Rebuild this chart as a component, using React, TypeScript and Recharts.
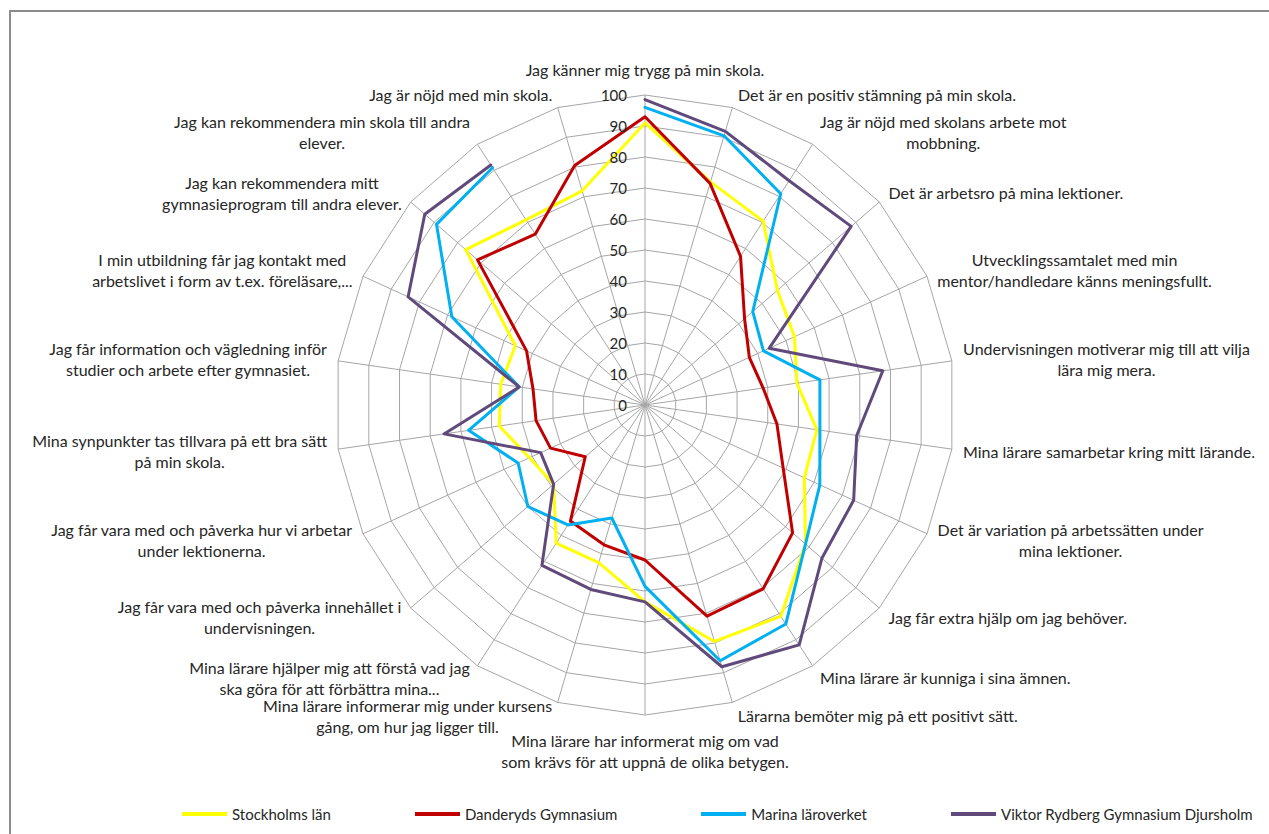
import React from "react";
import {
  RadarChart,
  Radar,
  PolarGrid,
  PolarAngleAxis,
  PolarRadiusAxis,
  Legend,
} from "recharts";

// ---- data ----
const CATEGORIES = [
  "Jag känner mig trygg på min skola.",
  "Det är en positiv stämning på min skola.",
  "Jag är nöjd med skolans arbete mot\nmobbning.",
  "Det är arbetsro på mina lektioner.",
  "Utvecklingssamtalet med min\nmentor/handledare känns meningsfullt.",
  "Undervisningen motiverar mig till att vilja\nlära mig mera.",
  "Mina lärare samarbetar kring mitt lärande.",
  "Det är variation på arbetssätten under\nmina lektioner.",
  "Jag får extra hjälp om jag behöver.",
  "Mina lärare är kunniga i sina ämnen.",
  "Lärarna bemöter mig på ett positivt sätt.",
  "Mina lärare har informerat mig om vad\nsom krävs för att uppnå de olika betygen.",
  "Mina lärare informerar mig under kursens\ngång, om hur jag ligger till.",
  "Mina lärare hjälper mig att förstå vad jag\nska göra för att förbättra mina...",
  "Jag får vara med och påverka innehållet i\nundervisningen.",
  "Jag får vara med och påverka hur vi arbetar\nunder lektionerna.",
  "Mina synpunkter tas tillvara på ett bra sätt\npå min skola.",
  "Jag får information och vägledning inför\nstudier och arbete efter gymnasiet.",
  "I min utbildning får jag kontakt med\narbetslivet i form av t.ex. föreläsare,...",
  "Jag kan rekommendera mitt\ngymnasieprogram till andra elever.",
  "Jag kan rekommendera min skola till andra\nelever.",
  "Jag är nöjd med min skola.",
];

const STOCKHOLM = [91, 75, 70.5, 56.5, 53, 49.5, 56, 56.5, 68.5, 81, 79.5, 63.5, 53, 53, 39, 41, 47.5, 47, 46, 76.5, 71, 72];
const DANDERYD = [93, 74.5, 57, 42.5, 37, 38.5, 43, 49, 63, 70.5, 71, 50, 47, 44.5, 25.5, 33.5, 35.5, 36.5, 42, 71.5, 65.5, 80.5];
const MARINA = [96, 90.5, 81, 46, 42, 57, 57, 62, 68.5, 84, 86, 58.5, 38, 46, 50, 45, 57.5, 41, 68.5, 89, 91, null];
const VIKTOR = [98.5, 92, 86, 88, 44, 77.5, 69, 74, 75.5, 92, 88, 63.5, 62, 61.5, 39, 37, 65.5, 41, 84, 94, 92, null];

const RADIUS_TICKS = [0, 10, 20, 30, 40, 50, 60, 70, 80, 90, 100];

const SERIES = [
  { key: "stockholm", name: "Stockholms län", color: "#FFFF00", values: STOCKHOLM },
  { key: "danderyd", name: "Danderyds Gymnasium", color: "#C00000", values: DANDERYD },
  { key: "marina", name: "Marina läroverket", color: "#00B0F0", values: MARINA },
  { key: "viktor", name: "Viktor Rydberg Gymnasium Djursholm", color: "#604A7B", values: VIKTOR },
];

const data = CATEGORIES.map((cat, i) => {
  const row: any = { cat };
  SERIES.forEach((s) => (row[s.key] = s.values[i]));
  return row;
});

// ---- layout ----
const W = 1269;
const H = 834;
const CX = 645;
const CY = 405;
const OUTER_R = 310;
const FONT = "Lato, 'Noto Sans', sans-serif";
const FONT_SIZE = 16;
const LEGEND_FONT_SIZE = 15;
const LINE_H = 21;
const TEXT_COLOR = "#262626";
const GRID_COLOR = "#A6A6A6";

let ctx: CanvasRenderingContext2D | null = null;
function measure(t: string) {
  if (!ctx) ctx = document.createElement("canvas").getContext("2d");
  if (!ctx) return t.length * 7;
  ctx.font = `${FONT_SIZE}px ${FONT}`;
  return ctx.measureText(t).width;
}

function AngleTick({ payload, x, y }: any) {
  const lines = String(payload.value).split("\n");
  const dx = x - CX;
  const dy = y - CY;
  const r = Math.hypot(dx, dy) || 1;
  const sin = dx / r;
  const cos = -dy / r;
  const w = Math.max(...lines.map(measure));
  const h = lines.length * LINE_H;
  let bx = x;
  let by = y;
  if (Math.abs(sin) < 0.1) {
    by = y - cos * (h / 2 + 7);
  } else {
    bx = x + Math.sign(sin) * (w / 2 + 3);
    by = y - cos * 6;
  }
  const top = by - h / 2 + LINE_H / 2;
  return (
    <g>
      {lines.map((ln, i) => (
        <text
          key={i}
          x={bx}
          y={top + i * LINE_H}
          textAnchor="middle"
          dominantBaseline="central"
          fontFamily={FONT}
          fontSize={FONT_SIZE}
          fill={TEXT_COLOR}
        >
          {ln}
        </text>
      ))}
    </g>
  );
}

function RadiusTick({ x, y, payload }: any) {
  return (
    <text
      x={x - 18}
      y={y}
      textAnchor="end"
      dominantBaseline="central"
      fontFamily={FONT}
      fontSize={15}
      fill={TEXT_COLOR}
    >
      {payload.value}
    </text>
  );
}

// open polyline: a missing value breaks the line instead of dropping to the centre
function RadarLine(props: any) {
  const { points, stroke, strokeWidth, dataKey } = props;
  const isNull = (p: any) => p.payload == null || p.payload[dataKey] == null;
  const n = points.length;
  const gap = points.findIndex(isNull);
  let d = "";
  if (gap < 0) {
    d = points.map((p: any, i: number) => `${i ? "L" : "M"}${p.x},${p.y}`).join("") + "Z";
  } else {
    let pen = false;
    for (let k = 1; k <= n; k++) {
      const p = points[(gap + k) % n];
      if (isNull(p)) {
        pen = false;
        continue;
      }
      d += `${pen ? "L" : "M"}${p.x},${p.y}`;
      pen = true;
    }
  }
  return (
    <path d={d} fill="none" stroke={stroke} strokeWidth={strokeWidth} strokeLinejoin="round" strokeLinecap="round" />
  );
}

function LegendContent() {
  return (
    <div style={{ display: "flex", alignItems: "center", gap: 84, fontFamily: FONT, fontSize: LEGEND_FONT_SIZE, color: TEXT_COLOR }}>
      {SERIES.map((s) => (
        <div key={s.key} style={{ display: "flex", alignItems: "center" }}>
          <span style={{ display: "inline-block", width: 45, height: 4, background: s.color, marginRight: 5 }} />
          <span>{s.name}</span>
        </div>
      ))}
    </div>
  );
}

export default function App() {
  return (
    <div style={{ position: "absolute", left: 0, top: 0, width: W, height: H, overflow: "hidden", background: "#fff" }}>
      <div
        style={{
          position: "absolute",
          left: 9,
          top: 10,
          width: W + 20,
          height: H + 20,
          borderLeft: "2px solid #8C8C8C",
          borderTop: "2px solid #8C8C8C",
        }}
      />
      <div style={{ position: "absolute", left: 0, top: 0 }}>
        <RadarChart
          width={W}
          height={H}
          data={data}
          cx={CX}
          cy={CY}
          outerRadius={OUTER_R}
          margin={{ top: 0, right: 0, bottom: 0, left: 0 }}
        >
          <PolarGrid gridType="polygon" stroke={GRID_COLOR} strokeWidth={1} />
          <PolarAngleAxis dataKey="cat" tick={<AngleTick />} tickLine={false} axisLine={false} />
          <PolarRadiusAxis
            angle={90}
            domain={[0, 100]}
            ticks={RADIUS_TICKS as any}
            tickCount={11}
            tick={<RadiusTick />}
            axisLine={false}
          />
          {SERIES.map((s) => (
            <Radar
              key={s.key}
              dataKey={s.key}
              name={s.name}
              stroke={s.color}
              strokeWidth={3}
              fill="none"
              fillOpacity={0}
              dot={false}
              shape={(p: any) => <RadarLine {...p} dataKey={s.key} />}
              isAnimationActive={false}
            />
          ))}
          <Legend
            content={<LegendContent />}
            wrapperStyle={{ position: "absolute", left: 182, top: 805, width: "auto" }}
          />
        </RadarChart>
      </div>
    </div>
  );
}
